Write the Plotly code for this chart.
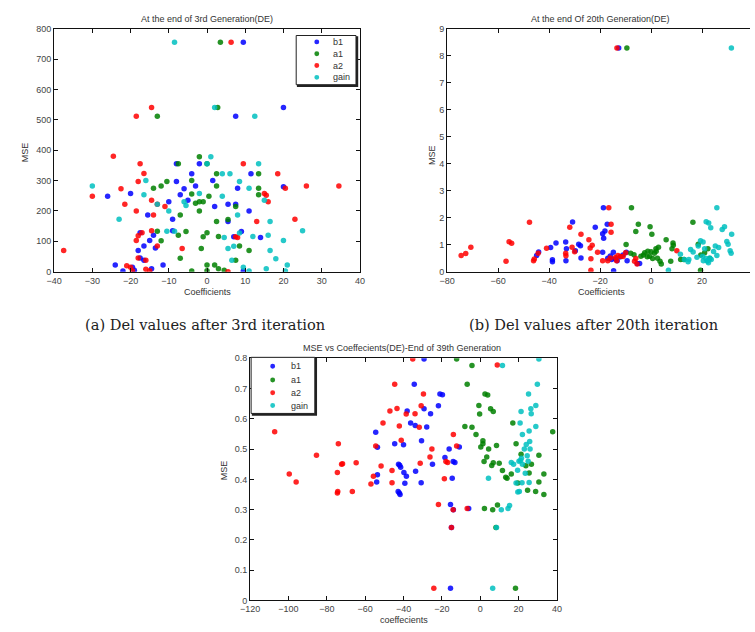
import plotly.graph_objects as go

# ---------------- data: (a) end of 3rd generation ----------------
a_b1_x = [9.5, 7.5, 20, -8, -2, -4, 11.5, -8, 1.5, -6, -3, 8, 20, -26, -20, -7, -10, -5, 5.5, 7.5, 2, 11, -15.5, -9, 5.5, -17.5, -9, 9, 7, 14, -14, -15, -13.5, -16.5, -18, -17.5, -16.5, -24, -11.5, -19.5, -19, -22, -14.5, 9.5]
a_b1_y = [755, 512, 540, 355, 355, 322, 322, 297, 300, 273, 282, 275, 280, 248, 257, 253, 230, 235, 222, 222, 215, 200, 187, 173, 165, 128, 135, 132, 115, 113, 120, 103, 78, 85, 70, 45, 38, 22, 22, 15, 5, 2, 10, 2]
a_a1_x = [3.5, 2.8, -13, -2, -7.5, 0, 2.5, 13.5, -10.5, -4, -14, -12, 2.5, 13.5, 13.5, -4, 0.5, -3, -2, -1, 7.5, -2, -7, 2.5, 5.5, -13, -5.5, 0, -1, 3, -12, -7.5, 8.5, -1.5, 11, -7, 7.5, 0, 2, -4, 0, 3, 4.5]
a_a1_y = [755, 540, 512, 378, 355, 355, 322, 322, 297, 300, 275, 282, 282, 275, 253, 256, 248, 225, 230, 230, 215, 200, 187, 165, 172, 133, 132, 128, 115, 116, 102, 120, 85, 76, 70, 44, 38, 22, 22, 2, 3, 10, 5]
a_a2_x = [6.3, -14.5, -18.5, -24.5, -17.5, 9.5, -16.5, 18.5, -18, -30, -22.5, -21.5, -14.5, -13, -11, -18.5, -14, 26, 34.5, 15, 15.5, 16, 13, 23, -17, -14.5, -18, -18.5, -13, -6.5, 7.5, 8, -37.5, -18, -16, -21, -20, -19.5, -16, -15, 5.5, 20.5]
a_a2_y = [755, 540, 512, 380, 355, 355, 323, 322, 297, 248, 273, 222, 235, 222, 215, 200, 187, 282, 282, 257, 252, 230, 165, 173, 128, 135, 118, 103, 85, 76, 115, 113, 70, 45, 38, 20, 15, 3, 8, 3, 0, 275]
a_gain_x = [-8.5, 2, 12.5, 1, 13.5, 0, 4, 6, 8.5, -16, -30, -16.5, -2, 4, 11, -6, -5.5, 15, -13, -10, -23, 8, 16.5, -10.5, -8.5, 12, 16, 25, 20, 8.5, 4.5, 5.5, 7, 16.5, 6.5, 18, 21, 9.5, 11, 15.5, 20.5]
a_gain_y = [755, 540, 512, 378, 355, 355, 322, 322, 297, 300, 282, 253, 257, 248, 275, 230, 218, 235, 222, 200, 173, 187, 165, 133, 133, 116, 120, 135, 103, 127, 113, 76, 84, 70, 38, 43, 22, 15, 2, 10, 2]

# ---------------- data: (b) end of 20th generation ----------------
b_b1_x = [-12.7, -44.9, -44.1, -39.4, -38.7, -38.7, -37.3, -33.5, -33.4, -33.2, -30.8, -29.7, -28.4, -27.7, -27.5, -21.9, -18.7, -19, -18.1, -18.6, -19, -17.2, -17, -15.5, -14, -14.7, -14.8, -13.3, -9.7, -9.4, -5.4, -4.5, -16, -12, -11]
b_b1_y = [8.28, 0.6, 0.73, 0.9, 0.44, 0.37, 1.06, 1.1, 0.41, 0.85, 1.84, 0.78, 1.02, 0.96, 0.51, 1.65, 2.37, 1.41, 1.51, 1.24, 0.72, 1.76, 0.5, 0.45, 0.47, 0.04, 0.72, 0.41, 0.72, 0.41, 0.3, 0.3, 0.58, 0.55, 0.62]
b_a1_x = [-9.5, -7.7, -9.8, -8, -6.7, -5, -6, -4, -2.5, -1.3, 0, 1.3, 2, -0.4, 0.3, -0.6, 0.6, 1.9, 2.9, 2.5, 3.5, 4, 5.9, 8.6, 8.7, 8.2, 7.7, 11.6, 12.9, 16.4, 18.5, 19.4, 19.5, 21, 22.3, 23, -3, -1.5]
b_a1_y = [8.28, 2.37, 1.01, 0.68, 0.63, 1.76, 1.49, 0.57, 0.7, 0.76, 0.74, 0.68, 0.76, 1.66, 1.39, 0.57, 0.49, 0.85, 0.91, 0.5, 0.39, 0.29, 1.18, 1.06, 0.98, 0.85, 0.39, 0.45, 0.45, 1.83, 1.02, 0.05, 0.62, 0.7, 0.85, 0.49, 0.62, 0.55]
b_a2_x = [-13.4, -74.5, -72.7, -70.7, -56.9, -55.7, -54.7, -47.7, -46.1, -45.8, -44.3, -41, -33.4, -33.5, -31.9, -30, -31, -27.5, -24.4, -23.9, -23.1, -23.6, -23.6, -21, -19, -16.6, -15.7, -15.7, -17, -16, -14, -13, -12, -13.5, -11, -10, -6, -5.5, -6.5, 10.1]
b_a2_y = [8.28, 0.6, 0.67, 0.91, 0.39, 1.11, 1.05, 1.83, 0.41, 0.47, 0.68, 0.87, 0.59, 0.68, 1.65, 0.74, 0.91, 1.39, 1.18, 0.88, 0.98, 0.48, 0.05, 0.72, 0.41, 2.37, 1.76, 1.46, 0.41, 0.51, 0.53, 0.6, 0.56, 0.41, 0.56, 0.7, 0.49, 0.29, 0.39, 0.78]
b_gain_x = [31.5, 6.8, 15.5, 16.5, 14.5, 14.8, 18, 19.4, 20.4, 21, 20.2, 20.5, 21.5, 22, 21.6, 22.6, 23.4, 25.8, 24.5, 25.2, 25.8, 26.5, 27.9, 28.8, 29.7, 30.2, 31, 31.4, 31.6, 22.2, 23, 23.6, 22.5, 11.5, 13, 18.5]
b_gain_y = [8.28, 0.05, 0.82, 0.73, 0.37, 0.45, 0.54, 1.15, 1.1, 0.85, 0.57, 0.41, 0.49, 0.4, 1.85, 1.8, 1.63, 2.37, 0.75, 0.95, 0.6, 0.9, 1.56, 1.66, 1.12, 1.02, 0.78, 0.68, 1.39, 0.41, 0.51, 0.45, 0.33, 0.65, 0.45, 0.95]

# ---------------- data: (c) end of 39th generation ----------------
c_b1_x = [-54.5, -53.6, -53.6, -54, -44.6, -42.6, -42, -41.5, -42.8, -42.2, -41.8, -40, -39.8, -39.3, -38.5, -38.1, -36.3, -34.4, -33.9, -33.7, -30.6, -30.8, -29.3, -29.3, -27.9, -25.9, -24.9, -21.8, -21, -19.7, -18.4, -16.2, -15.5, -15.5, -15, -14.6, -14.1, -13.2, -14, -10.9, -6]
c_b1_y = [0.556, 0.506, 0.415, 0.391, 0.518, 0.45, 0.447, 0.44, 0.36, 0.355, 0.35, 0.514, 0.423, 0.387, 0.41, 0.626, 0.586, 0.714, 0.578, 0.427, 0.528, 0.389, 0.798, 0.633, 0.573, 0.617, 0.45, 0.643, 0.682, 0.68, 0.472, 0.5, 0.317, 0.04, 0.241, 0.404, 0.459, 0.456, 0.3, 0.507, 0.304]
c_a1_x = [-12.3, -6.8, -4.3, -8, -4.3, -2.2, -0.7, -0.3, 0.3, 1.4, 1.4, 2, 2.5, 3.9, 2.2, 3.4, 4.4, 5.4, 6.8, 6, 6.8, 6.5, 8.2, 8.5, 9, 9.9, 11.6, 13.3, 14, 16.2, 17, 18.7, 18.4, 19.6, 21.3, 23.8, 24.7, 25.5, 26.7, 28.9, 30.6, 30.6, 33.2, 33.2, 37.8]
c_a1_y = [0.798, 0.714, 0.776, 0.575, 0.572, 0.548, 0.644, 0.616, 0.507, 0.528, 0.518, 0.459, 0.682, 0.679, 0.304, 0.474, 0.5, 0.633, 0.624, 0.446, 0.455, 0.3, 0.241, 0.512, 0.315, 0.453, 0.429, 0.407, 0.404, 0.418, 0.586, 0.518, 0.04, 0.388, 0.483, 0.445, 0.364, 0.421, 0.45, 0.36, 0.391, 0.48, 0.418, 0.35, 0.557]
c_a2_x = [-107.2, -99.6, -96, -85.4, -74, -74.5, -74.5, -74.3, -72.3, -71.8, -64.7, -66.7, -57, -55.7, -54.5, -51.7, -50.7, -47.1, -46, -46, -44.6, -43.4, -42.2, -41.2, -38.6, -35.2, -34, -31.8, -31.3, -30.8, -29.6, -26.2, -25.2, -24.2, -21.8, -18.7, -17.9, -17, -14, -14.1, -15, -12.3, -6.8, 8.9]
c_a2_y = [0.557, 0.418, 0.391, 0.48, 0.518, 0.423, 0.355, 0.36, 0.45, 0.452, 0.455, 0.36, 0.385, 0.41, 0.51, 0.444, 0.586, 0.626, 0.429, 0.389, 0.714, 0.634, 0.576, 0.529, 0.616, 0.798, 0.617, 0.572, 0.453, 0.643, 0.682, 0.474, 0.5, 0.04, 0.317, 0.402, 0.459, 0.456, 0.548, 0.3, 0.241, 0.51, 0.304, 0.778]
c_gain_x = [4.3, 6.5, 8.5, 11, 14.5, 15.3, 11.6, 16.2, 17.4, 18.7, 19.6, 20.4, 20.8, 20.2, 21.5, 22, 21, 21.3, 21.8, 22, 23, 24, 25, 25.5, 25.8, 25.5, 25.2, 26.4, 26.6, 29, 29, 29.8, 30.6, 23.5, 24.5, 26, 19.5]
c_gain_y = [0.404, 0.04, 0.241, 0.3, 0.304, 0.314, 0.776, 0.456, 0.45, 0.388, 0.358, 0.36, 0.586, 0.46, 0.47, 0.45, 0.462, 0.624, 0.389, 0.548, 0.5, 0.515, 0.46, 0.56, 0.525, 0.39, 0.682, 0.633, 0.617, 0.575, 0.644, 0.714, 0.798, 0.42, 0.478, 0.5, 0.43]

series_names = ["b1", "a1", "a2", "gain"]
series_colors = ["#0000ff", "#008000", "#ff0000", "#00bfbf"]

panel_a = [(a_b1_x, a_b1_y), (a_a1_x, a_a1_y), (a_a2_x, a_a2_y), (a_gain_x, a_gain_y)]
panel_b = [(b_b1_x, b_b1_y), (b_a1_x, b_a1_y), (b_a2_x, b_a2_y), (b_gain_x, b_gain_y)]
panel_c = [(c_b1_x, c_b1_y), (c_a1_x, c_a1_y), (c_a2_x, c_a2_y), (c_gain_x, c_gain_y)]

titles = ["At the end of 3rd Generation(DE)", "At the end Of 20th Generation(DE)",
          "MSE vs Coeffecients(DE)-End of 39th Generation"]
xlabels = ["Coefficients", "Coefficients", "coeffecients"]
captions = ["(a) Del values after 3rd iteration", "(b) Del values after 20th iteration"]

W, H = 755, 632
SANS = "Liberation Sans, Arial, sans-serif"
TXT = "#333"

fig = go.Figure()

def add_panel(data, xa, ya):
    for (xs, ys), name, col in zip(data, series_names, series_colors):
        fig.add_trace(go.Scatter(
            x=xs, y=ys, mode="markers", name=name, xaxis=xa, yaxis=ya,
            showlegend=False,
            marker=dict(symbol="circle", size=5.5, color=col, opacity=0.85,
                        line=dict(width=0)),
        ))

add_panel(panel_a, "x", "y")
add_panel(panel_b, "x2", "y2")
add_panel(panel_c, "x3", "y3")

def px(xp):
    return xp / W

def py(yp):
    return 1 - yp / H

axis_common = dict(showgrid=False, zeroline=False, showline=True, linecolor="#111",
                   linewidth=1, ticks="inside", ticklen=4, tickcolor="#111",
                   tickfont=dict(family=SANS, size=9, color="#444"))

fig.update_layout(
    width=W, height=H, margin=dict(l=0, r=0, t=0, b=0),
    paper_bgcolor="white", plot_bgcolor="white",
    font=dict(family=SANS, size=9, color=TXT),
    showlegend=False,
    xaxis=dict(domain=[px(45), px(357)], range=[-40, 40], dtick=10, anchor="y",
               mirror="allticks", **axis_common),
    yaxis=dict(domain=[py(271), py(24)], range=[0, 800], dtick=100, anchor="x",
               mirror="allticks", **axis_common),
    xaxis2=dict(domain=[px(446), 1.0], range=[-80, 38.8], dtick=20, anchor="y2",
                mirror="allticks", **axis_common),
    yaxis2=dict(domain=[py(271), py(24)], range=[0, 9], dtick=1, anchor="x2",
                mirror=False, **axis_common),
    xaxis3=dict(domain=[px(245), px(558)], range=[-120, 40], dtick=20, anchor="y3",
                mirror="allticks", **axis_common),
    yaxis3=dict(domain=[py(605), py(359)], range=[0, 0.8], dtick=0.1, anchor="x3",
                mirror="allticks", **axis_common),
)

ann = []
shapes = []
# panel titles
for t, cx, cy in zip(titles, [201, 602, 400], [14, 14, 349]):
    ann.append(dict(text=t, x=px(cx), y=py(cy), xref="paper", yref="paper",
                    showarrow=False, xanchor="center", yanchor="middle",
                    font=dict(family=SANS, size=9, color=TXT)))
# x labels
for t, cx, cy in zip(xlabels, [201, 603, 402], [292, 292, 625]):
    ann.append(dict(text=t, x=px(cx), y=py(cy), xref="paper", yref="paper",
                    showarrow=False, xanchor="center", yanchor="middle",
                    font=dict(family=SANS, size=9, color=TXT)))
# y labels
for cx, cy in zip([15, 430, 218], [150, 152, 473]):
    ann.append(dict(text="MSE", x=px(cx), y=py(cy), xref="paper", yref="paper",
                    showarrow=False, xanchor="center", yanchor="middle", textangle=-90,
                    font=dict(family=SANS, size=9, color=TXT)))
# captions
for t, cx in zip(captions, [199, 595]):
    ann.append(dict(text=t, x=px(cx), y=py(325), xref="paper", yref="paper",
                    showarrow=False, xanchor="center", yanchor="middle",
                    font=dict(family="DejaVu Serif, serif", size=14.6, color="#222")))

# legend boxes (MATLAB style, with a darker bottom/right edge)
def legend_box(x0, y0, x1, y1, rows, mx, tx):
    shapes.append(dict(type="rect", xref="paper", yref="paper",
                       x0=px(x0 + 1.5), x1=px(x1 + 1.5), y0=py(y1 + 1.5), y1=py(y0 + 1.5),
                       line=dict(color="#222", width=1.5), fillcolor="#222", layer="above"))
    shapes.append(dict(type="rect", xref="paper", yref="paper",
                       x0=px(x0), x1=px(x1), y0=py(y1), y1=py(y0),
                       line=dict(color="#222", width=1), fillcolor="white", layer="above"))
    for name, col, ry in zip(series_names, series_colors, rows):
        r = 2.5
        shapes.append(dict(type="circle", xref="paper", yref="paper",
                           x0=px(mx - r), x1=px(mx + r), y0=py(ry + r), y1=py(ry - r),
                           line=dict(width=0), fillcolor=col, opacity=0.85, layer="above"))
        ann.append(dict(text=name, x=px(tx), y=py(ry), xref="paper", yref="paper",
                        showarrow=False, xanchor="left", yanchor="middle",
                        font=dict(family=SANS, size=9, color=TXT)))

legend_box(292, 31, 353, 81, [37.5, 49.5, 61.5, 73.5], 313, 327)
legend_box(246, 358, 311, 415, [367, 381, 394, 407], 268, 285)

fig.update_layout(annotations=ann, shapes=shapes)

fig.write_html("out.html")
